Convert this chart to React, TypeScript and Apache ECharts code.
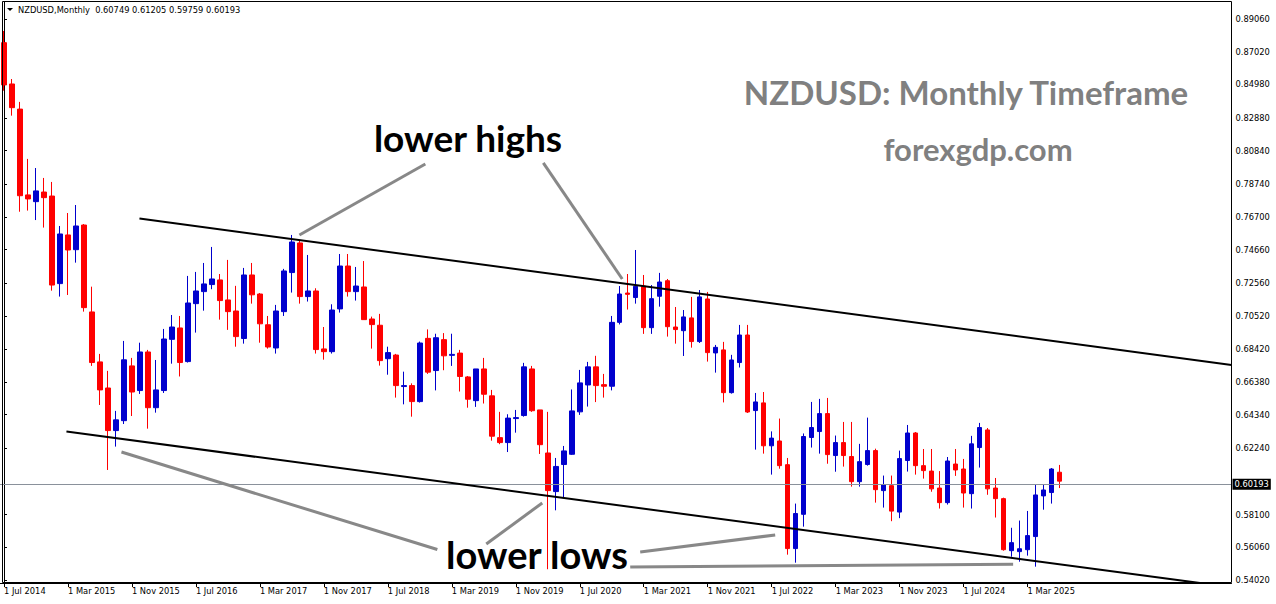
import React, { useEffect, useRef } from "react";
import * as echarts from "echarts";

// ---- DATA (NZDUSD monthly, Jul 2014 .. Jul 2025) ----
const MONTH_NAMES = ["Jan", "Feb", "Mar", "Apr", "May", "Jun", "Jul", "Aug", "Sep", "Oct", "Nov", "Dec"];
const START_YEAR = 2014;
const START_MONTH = 6; // July

const opens = [
  0.8758, 0.8500, 0.8343, 0.7807, 0.7765, 0.7825, 0.7800, 0.7253, 0.7557, 0.7465,
  0.7619, 0.7076, 0.6764, 0.6601, 0.6335, 0.6397, 0.6739, 0.6585, 0.6826, 0.6478,
  0.6585, 0.6905, 0.6976, 0.6766, 0.7128, 0.7203, 0.7247, 0.7276, 0.7151, 0.7082,
  0.6910, 0.7307, 0.7188, 0.6996, 0.6851, 0.7078, 0.7322, 0.7507, 0.7172, 0.7207,
  0.6845, 0.6828, 0.7095, 0.7363, 0.7203, 0.7232, 0.7032, 0.6993, 0.6784, 0.6807,
  0.6610, 0.6616, 0.6516, 0.6911, 0.6710, 0.6903, 0.6805, 0.6819, 0.6670, 0.6522,
  0.6720, 0.6552, 0.6291, 0.6260, 0.6410, 0.6429, 0.6720, 0.6464, 0.6195, 0.5954,
  0.6123, 0.6187, 0.6452, 0.6620, 0.6733, 0.6622, 0.6612, 0.7011, 0.7194, 0.7166,
  0.7238, 0.6978, 0.7174, 0.7271, 0.6982, 0.6959, 0.7039, 0.6891, 0.7157, 0.6820,
  0.6839, 0.6572, 0.6760, 0.6932, 0.6460, 0.6508, 0.6240, 0.6270, 0.6122, 0.5598,
  0.5812, 0.6292, 0.6329, 0.6441, 0.6179, 0.6260, 0.6173, 0.6016, 0.6123, 0.6210,
  0.5960, 0.5991, 0.5826, 0.6148, 0.6320, 0.6116, 0.6082, 0.5976, 0.5885, 0.6126,
  0.6095, 0.5941, 0.6229, 0.6339, 0.5976, 0.5910, 0.5585, 0.5579, 0.5591, 0.5673,
  0.5927, 0.5948, 0.60749,
];
const highs = [
  0.8831, 0.8531, 0.8388, 0.8032, 0.7975, 0.7913, 0.7888, 0.7613, 0.7694, 0.7744,
  0.7625, 0.7234, 0.6814, 0.6708, 0.6458, 0.6895, 0.6789, 0.6884, 0.6839, 0.6776,
  0.6970, 0.7057, 0.7051, 0.7301, 0.7326, 0.7382, 0.7482, 0.7313, 0.7401, 0.7239,
  0.7351, 0.7382, 0.7194, 0.7051, 0.7120, 0.7345, 0.7557, 0.7522, 0.7432, 0.7224,
  0.6982, 0.7124, 0.7438, 0.7438, 0.7357, 0.7394, 0.7047, 0.7064, 0.6859, 0.6814,
  0.6703, 0.6630, 0.6891, 0.6967, 0.6940, 0.6944, 0.6940, 0.6839, 0.6676, 0.6720,
  0.6789, 0.6589, 0.6452, 0.6437, 0.6464, 0.6758, 0.6739, 0.6464, 0.6452, 0.6164,
  0.6239, 0.6592, 0.6714, 0.6764, 0.6802, 0.6689, 0.7051, 0.7238, 0.7313, 0.7463,
  0.7307, 0.7244, 0.7320, 0.7282, 0.7107, 0.7088, 0.7170, 0.7213, 0.7201, 0.6870,
  0.6889, 0.6808, 0.6995, 0.6995, 0.6570, 0.6576, 0.6330, 0.6410, 0.6164, 0.5879,
  0.6317, 0.6514, 0.6533, 0.6539, 0.6304, 0.6389, 0.6389, 0.6252, 0.6416, 0.6222,
  0.6054, 0.6054, 0.6210, 0.6370, 0.6326, 0.6220, 0.6220, 0.6082, 0.6170, 0.6220,
  0.6158, 0.6302, 0.6383, 0.6351, 0.6039, 0.5916, 0.5728, 0.5773, 0.5833, 0.5995,
  0.5995, 0.6101, 0.61205,
];
const lows = [
  0.8458, 0.8302, 0.7702, 0.7709, 0.7650, 0.7603, 0.7209, 0.7172, 0.7182, 0.7384,
  0.7078, 0.6739, 0.6495, 0.6089, 0.6235, 0.6376, 0.6426, 0.6564, 0.6347, 0.6447,
  0.6570, 0.6753, 0.6673, 0.6760, 0.6947, 0.7084, 0.7218, 0.7028, 0.6964, 0.6859,
  0.6878, 0.7128, 0.6884, 0.6847, 0.6816, 0.7051, 0.7197, 0.7128, 0.7141, 0.6816,
  0.6778, 0.6816, 0.7072, 0.7172, 0.7147, 0.7028, 0.6847, 0.6741, 0.6684, 0.6541,
  0.6499, 0.6422, 0.6510, 0.6689, 0.6586, 0.6712, 0.6739, 0.6579, 0.6478, 0.6483,
  0.6504, 0.6272, 0.6250, 0.6201, 0.6322, 0.6422, 0.6452, 0.6189, 0.5469, 0.5837,
  0.5920, 0.6183, 0.6433, 0.6485, 0.6513, 0.6541, 0.6586, 0.6998, 0.7091, 0.7128,
  0.6939, 0.6939, 0.7109, 0.6922, 0.6878, 0.6801, 0.6853, 0.6882, 0.6766, 0.6697,
  0.6511, 0.6566, 0.6729, 0.6445, 0.6216, 0.6191, 0.6060, 0.6097, 0.5560, 0.5510,
  0.5735, 0.6229, 0.6191, 0.6128, 0.6078, 0.6110, 0.5985, 0.5985, 0.6116, 0.5885,
  0.5854, 0.5769, 0.5788, 0.6079, 0.6060, 0.6035, 0.5953, 0.5848, 0.5873, 0.6052,
  0.5854, 0.5848, 0.6104, 0.5934, 0.5792, 0.5585, 0.5547, 0.5516, 0.5554, 0.5485,
  0.5841, 0.5879, 0.59759,
];
const closes = [
  0.8494, 0.8352, 0.7802, 0.7782, 0.7832, 0.7790, 0.7244, 0.7563, 0.7463, 0.7613,
  0.7103, 0.6760, 0.6589, 0.6335, 0.6402, 0.6777, 0.6576, 0.6826, 0.6478, 0.6589,
  0.6907, 0.6982, 0.6760, 0.7132, 0.7207, 0.7251, 0.7282, 0.7147, 0.7078, 0.6922,
  0.7307, 0.7183, 0.7002, 0.6857, 0.7082, 0.7332, 0.7513, 0.7172, 0.7207, 0.6841,
  0.6828, 0.7088, 0.7363, 0.7203, 0.7238, 0.7028, 0.6997, 0.6772, 0.6822, 0.6616,
  0.6616, 0.6516, 0.6882, 0.6700, 0.6915, 0.6802, 0.6811, 0.6673, 0.6531, 0.6720,
  0.6562, 0.6300, 0.6260, 0.6413, 0.6416, 0.6733, 0.6459, 0.6247, 0.5960, 0.6111,
  0.6208, 0.6458, 0.6633, 0.6733, 0.6616, 0.6612, 0.7011, 0.7188, 0.7186, 0.7236,
  0.6978, 0.7159, 0.7263, 0.6984, 0.6966, 0.7045, 0.6891, 0.7170, 0.6822, 0.6855,
  0.6572, 0.6776, 0.6932, 0.6451, 0.6514, 0.6240, 0.6288, 0.6116, 0.5598, 0.5817,
  0.6298, 0.6354, 0.6441, 0.6185, 0.6260, 0.6179, 0.6016, 0.6141, 0.6210, 0.5966,
  0.5998, 0.5832, 0.6160, 0.6320, 0.6116, 0.6085, 0.5971, 0.5885, 0.6145, 0.6089,
  0.5945, 0.6252, 0.6354, 0.5971, 0.5910, 0.5591, 0.5635, 0.5597, 0.5679, 0.5933,
  0.5964, 0.6095, 0.60193,
];

const TOTAL_SLOTS = 154; // bars + empty space on the right
const LABEL_EVERY = 8;
const categories = Array.from({ length: TOTAL_SLOTS }, (_, i) => {
  if (i >= opens.length) return "";
  const m = START_MONTH + i;
  return `1 ${MONTH_NAMES[m % 12]} ${START_YEAR + Math.floor(m / 12)}`;
});

const yTickValues = [
  0.5402, 0.5606, 0.581, 0.6224, 0.6434, 0.6638, 0.6842, 0.7052, 0.7256,
  0.7466, 0.767, 0.7874, 0.8084, 0.8288, 0.8498, 0.8702, 0.8906,
];
const Y_MIN = 0.5383;
const Y_MAX = 0.9012;
const lastPrice = 0.60193;
const headerText = "NZDUSD,Monthly  0.60749 0.61205 0.59759 0.60193";

// trend channel & annotation lines: [bar index, price]
const upperChannel = [[16.94, 0.7659], [153.5, 0.6745]];
const lowerChannel = [[7.81, 0.6329], [149.56, 0.5383]];
const highArrowLeft = [[36.94, 0.7557], [52.69, 0.8]];
const highArrowRight = [[67.44, 0.8007], [77.31, 0.7282]];
const lowArrow1 = [[14.69, 0.6201], [54.19, 0.5592]];
const lowArrow2 = [[60.31, 0.5627], [67.31, 0.5883]];
const lowArrow3 = [[79.56, 0.5577], [96.44, 0.5683]];
const lowArrow4 = [[78.31, 0.5483], [126.19, 0.55]];

const BULL = "#0000CD";
const BEAR = "#FF0000";
const AXIS_FONT = "DejaVu Sans";
const AXIS_SIZE = 8.3;
const ANNO_FONT = "Lato";

export default function App() {
  const ref = useRef<HTMLDivElement>(null);

  useEffect(() => {
    if (!ref.current) return;
    const chart = echarts.init(ref.current, undefined, { renderer: "svg" });

    const lineSeries = (data: number[][], color: string, width: number) => ({
      type: "line",
      xAxisIndex: 1,
      yAxisIndex: 0,
      data,
      symbol: "none",
      silent: true,
      lineStyle: { color, width },
      z: 5,
    });

    chart.setOption({
      animation: false,
      backgroundColor: "#ffffff",
      grid: { left: -0.5, right: 44.5, top: 2, bottom: 21, containLabel: false },
      xAxis: [
        {
          type: "category",
          data: categories,
          boundaryGap: true,
          axisLine: { show: true, lineStyle: { color: "#000", width: 1 } },
          axisTick: {
            show: true,
            length: 4,
            alignWithLabel: true,
            interval: (i: number) => i % LABEL_EVERY === 0 && i < opens.length,
            lineStyle: { color: "#000" },
          },
          axisLabel: {
            show: true,
            interval: (i: number) => i % LABEL_EVERY === 0 && i < opens.length,
            align: "left",
            margin: 4,
            color: "#000",
            fontFamily: AXIS_FONT,
            fontSize: AXIS_SIZE,
            hideOverlap: false,
          },
          splitLine: { show: false },
        },
        {
          type: "value",
          show: false,
          min: -0.5,
          max: TOTAL_SLOTS - 0.5,
        },
      ],
      yAxis: {
        type: "value",
        position: "right",
        min: Y_MIN,
        max: Y_MAX,
        scale: true,
        splitLine: { show: false },
        axisLine: { show: true, lineStyle: { color: "#000", width: 1 } },
        axisTick: {
          show: true,
          length: 3,
          customValues: yTickValues,
          lineStyle: { color: "#000" },
        },
        axisLabel: {
          show: true,
          customValues: yTickValues,
          formatter: (v: number) => v.toFixed(5),
          margin: 4,
          color: "#000",
          fontFamily: AXIS_FONT,
          fontSize: AXIS_SIZE,
        },
      },
      series: [
        {
          type: "candlestick",
          xAxisIndex: 0,
          yAxisIndex: 0,
          barWidth: 5,
          data: opens.map((o, i) => [o, closes[i], lows[i], highs[i]]),
          itemStyle: {
            color: BULL,
            color0: BEAR,
            borderColor: BULL,
            borderColor0: BEAR,
            borderWidth: 1,
          },
          markLine: {
            silent: true,
            symbol: ["none", "none"],
            lineStyle: { color: "#8a919b", width: 1, type: "solid" },
            label: {
              show: true,
              position: "end",
              distance: 1,
              formatter: lastPrice.toFixed(5),
              backgroundColor: "#000",
              color: "#fff",
              fontFamily: AXIS_FONT,
              fontSize: AXIS_SIZE,
              padding: [2, 2, 1, 2],
            },
            data: [{ yAxis: lastPrice }],
          },
          z: 3,
        },
        lineSeries(upperChannel, "#000", 2),
        lineSeries(lowerChannel, "#000", 2),
        lineSeries(highArrowLeft, "#888888", 3),
        lineSeries(highArrowRight, "#888888", 3),
        lineSeries(lowArrow1, "#888888", 3),
        lineSeries(lowArrow2, "#888888", 3),
        lineSeries(lowArrow3, "#888888", 3),
        lineSeries(lowArrow4, "#888888", 3),
      ],
      graphic: [
        {
          type: "rect",
          silent: true,
          z: 50,
          shape: { x: 2.5, y: 1.5, width: 1229, height: 581 },
          style: { fill: "none", stroke: "#000", lineWidth: 1 },
        },
        {
          type: "polygon",
          silent: true,
          shape: { points: [[7, 8], [13, 8], [10, 11]] },
          style: { fill: "#000" },
        },
        {
          type: "text",
          silent: true,
          x: 18,
          y: 10,
          style: {
            text: headerText,
            fill: "#000",
            font: `${AXIS_SIZE}px "${AXIS_FONT}"`,
            textAlign: "left",
            textVerticalAlign: "middle",
          },
        },
        {
          type: "text",
          silent: true,
          x: 966,
          y: 92,
          style: {
            text: "NZDUSD: Monthly Timeframe",
            fill: "#808080",
            font: `bold 33px "${ANNO_FONT}"`,
            textAlign: "center",
            textVerticalAlign: "middle",
          },
        },
        {
          type: "text",
          silent: true,
          x: 978,
          y: 149,
          style: {
            text: "forexgdp.com",
            fill: "#808080",
            font: `bold 31px "${ANNO_FONT}"`,
            textAlign: "center",
            textVerticalAlign: "middle",
          },
        },
        {
          type: "text",
          silent: true,
          x: 468,
          y: 137,
          style: {
            text: "lower highs",
            fill: "#000",
            font: `bold 37px "${ANNO_FONT}"`,
            textAlign: "center",
            textVerticalAlign: "middle",
          },
        },
        {
          type: "text",
          silent: true,
          x: 537,
          y: 554,
          style: {
            text: "lower lows",
            fill: "#000",
            font: `bold 38px "${ANNO_FONT}"`,
            textAlign: "center",
            textVerticalAlign: "middle",
          },
        },
      ],
    });

    return () => chart.dispose();
  }, []);

  return (
    <div
      ref={ref}
      style={{ position: "fixed", left: 0, top: 0, width: 1276, height: 604, background: "#fff" }}
    />
  );
}
